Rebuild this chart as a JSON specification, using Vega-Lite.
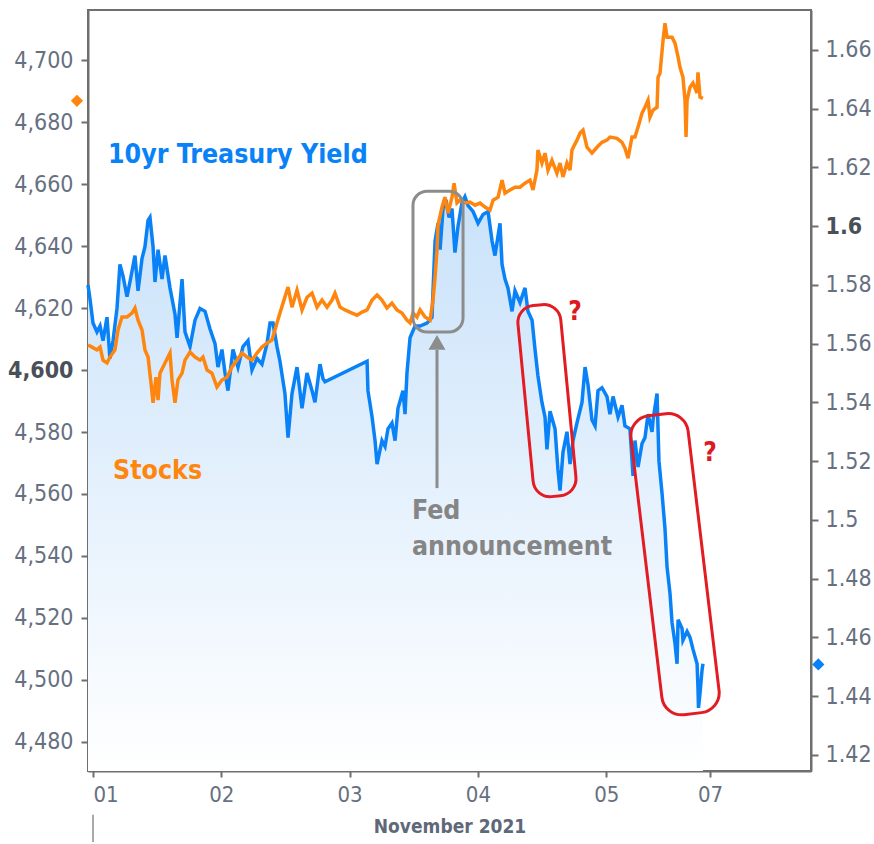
{
  "$schema": "https://vega.github.io/schema/vega-lite/v6.json",
  "width": 723,
  "height": 761,
  "autosize": {"type": "none"},
  "padding": {"left": 88, "top": 10, "right": 63, "bottom": 73},
  "background": "#ffffff",
  "config": {
    "view": {"stroke": "#6f6f6f", "strokeWidth": 2},
    "font": "DejaVu Sans Condensed, DejaVu Sans",
    "axis": {
      "grid": false,
      "labelFont": "DejaVu Sans Condensed, DejaVu Sans",
      "labelFontSize": 23,
      "labelColor": "#667080",
      "domainColor": "#6f6f6f",
      "domainWidth": 2,
      "tickColor": "#6f6f6f",
      "tickWidth": 2,
      "tickSize": 7,
      "titleFont": "DejaVu Sans Condensed, DejaVu Sans"
    }
  },
  "layer": [
    {
      "data": {"values": [{"t":0.961,"y":1.580},{"t":0.977,"y":1.575},{"t":1.0,"y":1.567},{"t":1.031,"y":1.564},{"t":1.055,"y":1.566},{"t":1.078,"y":1.561},{"t":1.109,"y":1.569},{"t":1.132,"y":1.555},{"t":1.156,"y":1.561},{"t":1.187,"y":1.572},{"t":1.21,"y":1.587},{"t":1.234,"y":1.583},{"t":1.265,"y":1.576},{"t":1.288,"y":1.581},{"t":1.327,"y":1.59},{"t":1.351,"y":1.578},{"t":1.382,"y":1.589},{"t":1.405,"y":1.593},{"t":1.429,"y":1.602},{"t":1.444,"y":1.603},{"t":1.468,"y":1.593},{"t":1.483,"y":1.581},{"t":1.507,"y":1.592},{"t":1.538,"y":1.582},{"t":1.561,"y":1.59},{"t":1.6,"y":1.579},{"t":1.639,"y":1.57},{"t":1.655,"y":1.562},{"t":1.694,"y":1.582},{"t":1.717,"y":1.564},{"t":1.756,"y":1.559},{"t":1.795,"y":1.568},{"t":1.834,"y":1.572},{"t":1.873,"y":1.571},{"t":1.912,"y":1.565},{"t":1.951,"y":1.56},{"t":1.974,"y":1.552},{"t":2.005,"y":1.558},{"t":2.029,"y":1.55},{"t":2.052,"y":1.544},{"t":2.091,"y":1.558},{"t":2.13,"y":1.552},{"t":2.169,"y":1.559},{"t":2.208,"y":1.561},{"t":2.239,"y":1.551},{"t":2.278,"y":1.555},{"t":2.317,"y":1.553},{"t":2.356,"y":1.56},{"t":2.38,"y":1.567},{"t":2.403,"y":1.567},{"t":2.434,"y":1.559},{"t":2.457,"y":1.554},{"t":2.496,"y":1.543},{"t":2.52,"y":1.528},{"t":2.551,"y":1.543},{"t":2.59,"y":1.552},{"t":2.629,"y":1.538},{"t":2.668,"y":1.55},{"t":2.707,"y":1.544},{"t":2.73,"y":1.54},{"t":2.769,"y":1.553},{"t":2.793,"y":1.548},{"t":2.808,"y":1.547},{"t":3.136,"y":1.554},{"t":3.143,"y":1.544},{"t":3.175,"y":1.535},{"t":3.198,"y":1.527},{"t":3.214,"y":1.519},{"t":3.252,"y":1.527},{"t":3.276,"y":1.525},{"t":3.299,"y":1.531},{"t":3.33,"y":1.533},{"t":3.354,"y":1.527},{"t":3.377,"y":1.538},{"t":3.416,"y":1.544},{"t":3.432,"y":1.536},{"t":3.447,"y":1.55},{"t":3.471,"y":1.562},{"t":3.51,"y":1.566},{"t":3.549,"y":1.566},{"t":3.603,"y":1.567},{"t":3.642,"y":1.569},{"t":3.65,"y":1.578},{"t":3.666,"y":1.595},{"t":3.689,"y":1.601},{"t":3.705,"y":1.592},{"t":3.728,"y":1.606},{"t":3.751,"y":1.609},{"t":3.775,"y":1.603},{"t":3.798,"y":1.606},{"t":3.821,"y":1.591},{"t":3.845,"y":1.6},{"t":3.876,"y":1.608},{"t":3.899,"y":1.61},{"t":3.923,"y":1.607},{"t":3.962,"y":1.605},{"t":4.001,"y":1.601},{"t":4.04,"y":1.604},{"t":4.079,"y":1.605},{"t":4.11,"y":1.595},{"t":4.133,"y":1.59},{"t":4.172,"y":1.601},{"t":4.188,"y":1.587},{"t":4.211,"y":1.582},{"t":4.234,"y":1.579},{"t":4.266,"y":1.571},{"t":4.289,"y":1.578},{"t":4.328,"y":1.574},{"t":4.367,"y":1.579},{"t":4.39,"y":1.571},{"t":4.422,"y":1.568},{"t":4.445,"y":1.558},{"t":4.468,"y":1.549},{"t":4.499,"y":1.54},{"t":4.523,"y":1.535},{"t":4.538,"y":1.524},{"t":4.562,"y":1.537},{"t":4.601,"y":1.531},{"t":4.624,"y":1.517},{"t":4.64,"y":1.51},{"t":4.663,"y":1.523},{"t":4.694,"y":1.53},{"t":4.718,"y":1.519},{"t":4.741,"y":1.527},{"t":4.772,"y":1.533},{"t":4.811,"y":1.54},{"t":4.835,"y":1.552},{"t":4.858,"y":1.546},{"t":4.889,"y":1.534},{"t":4.913,"y":1.532},{"t":4.936,"y":1.544},{"t":4.967,"y":1.545},{"t":5.006,"y":1.542},{"t":5.029,"y":1.536},{"t":5.053,"y":1.542},{"t":5.092,"y":1.535},{"t":5.123,"y":1.539},{"t":5.146,"y":1.532},{"t":5.185,"y":1.531},{"t":5.209,"y":1.515},{"t":5.224,"y":1.527},{"t":5.248,"y":1.518},{"t":5.279,"y":1.526},{"t":5.302,"y":1.528},{"t":5.326,"y":1.536},{"t":5.357,"y":1.53},{"t":5.365,"y":1.534},{"t":5.396,"y":1.543},{"t":5.411,"y":1.52},{"t":5.435,"y":1.509},{"t":5.458,"y":1.497},{"t":5.474,"y":1.484},{"t":5.497,"y":1.475},{"t":5.513,"y":1.465},{"t":5.536,"y":1.458},{"t":5.552,"y":1.451},{"t":5.56,"y":1.466},{"t":5.591,"y":1.463},{"t":5.598,"y":1.459},{"t":5.63,"y":1.462},{"t":5.653,"y":1.46},{"t":5.676,"y":1.456},{"t":5.708,"y":1.451},{"t":5.715,"y":1.443},{"t":5.719,"y":1.436},{"t":5.731,"y":1.441},{"t":5.747,"y":1.449},{"t":5.754,"y":1.451}]},
      "encoding": {
        "x": {
          "field": "t", "type": "quantitative",
          "scale": {"domain": [0.961, 6.596], "nice": false, "zero": false},
          "axis": {
            "values": [1, 2, 3, 4, 5, 5.809],
            "labelExpr": "datum.value == 1 ? '01' : datum.value == 2 ? '02' : datum.value == 3 ? '03' : datum.value == 4 ? '04' : datum.value == 5 ? '05' : '07'",
            "labelFontSize": 22,
            "labelPadding": 7,
            "labelFlush": 10,
            "labelDx": 2,
            "tickSize": 6,
            "title": "November 2021",
            "titleFontSize": 19,
            "titleFontWeight": "bold",
            "titleColor": "#5f6878",
            "titlePadding": 12
          }
        },
        "y": {
          "field": "y", "type": "quantitative",
          "scale": {"domain": [1.4145, 1.6736], "nice": false, "zero": false},
          "axis": {
            "orient": "right",
            "title": null,
            "values": [1.42, 1.44, 1.46, 1.48, 1.5, 1.52, 1.54, 1.56, 1.58, 1.6, 1.62, 1.64, 1.66],
            "labelExpr": "format(datum.value, '~g')",
            "labelPadding": 7,
            "labelFontWeight": {"condition": {"test": "abs(datum.value - 1.6) < 0.0001", "value": "bold"}, "value": "normal"},
            "labelColor": {"condition": {"test": "abs(datum.value - 1.6) < 0.0001", "value": "#4a5058"}, "value": "#667080"}
          }
        }
      },
      "layer": [
        {
          "mark": {
            "type": "area",
            "fill": {"x1": 0, "y1": 0, "x2": 0, "y2": 1, "gradient": "linear", "stops": [{"offset": 0, "color": "#c9e2fa"}, {"offset": 1, "color": "#ffffff"}]},
            "stroke": null
          },
          "encoding": {"y": {"field": "y", "type": "quantitative", "stack": null}}
        },
        {"mark": {"type": "line", "color": "#0a82f7", "strokeWidth": 3.5}},
        {
          "data": {"values": [{"t": 4.538, "y": 1.5406}]},
          "mark": {"type": "point", "shape": "M -0.045,-0.96 L 0.045,-0.96 C 0.1389,-0.96 0.215,-0.8839 0.215,-0.79 L 0.215,0.79 C 0.215,0.8839 0.1389,0.96 0.045,0.96 L -0.045,0.96 C -0.1389,0.96 -0.215,0.8839 -0.215,0.79 L -0.215,-0.79 C -0.215,-0.8839 -0.1389,-0.96 -0.045,-0.96 Z", "size": 40000, "angle": -5.5, "filled": false, "stroke": "#e31b23", "strokeWidth": 3, "opacity": 1}
        },
        {
          "data": {"values": [{"t": 5.536, "y": 1.4849}]},
          "mark": {"type": "point", "shape": "M -0.088,-1.505 L 0.088,-1.505 C 0.1985,-1.505 0.288,-1.4155 0.288,-1.305 L 0.288,1.305 C 0.288,1.4155 0.1985,1.505 0.088,1.505 L -0.088,1.505 C -0.1985,1.505 -0.288,1.4155 -0.288,1.305 L -0.288,-1.305 C -0.288,-1.4155 -0.1985,-1.505 -0.088,-1.505 Z", "size": 40000, "angle": -6.8, "filled": false, "stroke": "#e31b23", "strokeWidth": 3, "opacity": 1}
        },
        {
          "data": {"values": [{"t": 4.757, "y": 1.5708, "label": "?"}, {"t": 5.809, "y": 1.5229, "label": "?"}]},
          "mark": {"type": "text", "align": "center", "baseline": "middle", "fontSize": 26, "fontWeight": "bold", "color": "#dd1a22"},
          "encoding": {"text": {"field": "label"}}
        },
        {
          "data": {"values": [{"t": 6.653, "y": 1.4508}]},
          "mark": {"type": "point", "shape": "diamond", "filled": true, "size": 150, "color": "#0a82f7", "opacity": 1}
        }
      ]
    },
    {
      "data": {"values": [{"t":0.961,"s":4608.1},{"t":0.992,"s":4607.4},{"t":1.031,"s":4606.5},{"t":1.055,"s":4607.4},{"t":1.078,"s":4603.2},{"t":1.109,"s":4602.3},{"t":1.132,"s":4604.2},{"t":1.171,"s":4606.5},{"t":1.195,"s":4612.9},{"t":1.226,"s":4617.1},{"t":1.265,"s":4617.1},{"t":1.304,"s":4618.4},{"t":1.327,"s":4620.0},{"t":1.351,"s":4616.1},{"t":1.382,"s":4612.9},{"t":1.405,"s":4606.5},{"t":1.429,"s":4604.2},{"t":1.452,"s":4595.8},{"t":1.468,"s":4589.4},{"t":1.491,"s":4597.7},{"t":1.507,"s":4590.3},{"t":1.522,"s":4599.0},{"t":1.561,"s":4602.3},{"t":1.6,"s":4605.5},{"t":1.616,"s":4596.8},{"t":1.639,"s":4589.4},{"t":1.662,"s":4596.8},{"t":1.694,"s":4599.0},{"t":1.717,"s":4603.2},{"t":1.756,"s":4605.8},{"t":1.795,"s":4604.2},{"t":1.834,"s":4603.2},{"t":1.857,"s":4604.2},{"t":1.889,"s":4600.0},{"t":1.927,"s":4599.0},{"t":1.966,"s":4594.5},{"t":2.005,"s":4596.8},{"t":2.044,"s":4597.7},{"t":2.083,"s":4601.0},{"t":2.122,"s":4603.2},{"t":2.161,"s":4605.5},{"t":2.2,"s":4604.2},{"t":2.239,"s":4603.2},{"t":2.278,"s":4605.5},{"t":2.317,"s":4607.4},{"t":2.356,"s":4608.7},{"t":2.395,"s":4609.7},{"t":2.434,"s":4615.2},{"t":2.457,"s":4618.4},{"t":2.481,"s":4621.6},{"t":2.52,"s":4626.8},{"t":2.551,"s":4620.3},{"t":2.59,"s":4625.8},{"t":2.629,"s":4619.4},{"t":2.668,"s":4623.5},{"t":2.707,"s":4624.8},{"t":2.746,"s":4620.3},{"t":2.785,"s":4622.6},{"t":2.824,"s":4620.3},{"t":2.863,"s":4622.6},{"t":2.886,"s":4624.8},{"t":2.925,"s":4620.3},{"t":2.964,"s":4619.4},{"t":3.019,"s":4618.4},{"t":3.058,"s":4617.7},{"t":3.097,"s":4618.7},{"t":3.136,"s":4619.4},{"t":3.175,"s":4622.6},{"t":3.214,"s":4624.2},{"t":3.252,"s":4622.6},{"t":3.291,"s":4620.0},{"t":3.33,"s":4621.6},{"t":3.369,"s":4619.4},{"t":3.408,"s":4618.4},{"t":3.447,"s":4616.1},{"t":3.471,"s":4615.2},{"t":3.494,"s":4618.4},{"t":3.525,"s":4617.1},{"t":3.549,"s":4619.4},{"t":3.588,"s":4617.1},{"t":3.627,"s":4616.1},{"t":3.65,"s":4622.6},{"t":3.666,"s":4630.0},{"t":3.681,"s":4638.7},{"t":3.689,"s":4646.8},{"t":3.72,"s":4652.6},{"t":3.743,"s":4655.8},{"t":3.767,"s":4650.6},{"t":3.798,"s":4655.8},{"t":3.814,"s":4660.3},{"t":3.837,"s":4653.9},{"t":3.86,"s":4654.8},{"t":3.899,"s":4653.9},{"t":3.938,"s":4654.2},{"t":3.977,"s":4653.2},{"t":4.016,"s":4653.9},{"t":4.055,"s":4652.6},{"t":4.094,"s":4651.6},{"t":4.118,"s":4654.8},{"t":4.157,"s":4655.8},{"t":4.188,"s":4661.3},{"t":4.211,"s":4657.1},{"t":4.25,"s":4658.1},{"t":4.289,"s":4659.0},{"t":4.328,"s":4659.0},{"t":4.367,"s":4660.3},{"t":4.406,"s":4661.3},{"t":4.429,"s":4658.1},{"t":4.46,"s":4664.5},{"t":4.468,"s":4671.0},{"t":4.499,"s":4666.8},{"t":4.523,"s":4670.0},{"t":4.546,"s":4664.5},{"t":4.577,"s":4667.7},{"t":4.616,"s":4663.5},{"t":4.64,"s":4666.8},{"t":4.663,"s":4662.3},{"t":4.694,"s":4666.8},{"t":4.718,"s":4664.5},{"t":4.733,"s":4671.0},{"t":4.772,"s":4674.2},{"t":4.796,"s":4676.5},{"t":4.819,"s":4677.4},{"t":4.85,"s":4671.9},{"t":4.889,"s":4670.0},{"t":4.928,"s":4671.9},{"t":4.967,"s":4673.5},{"t":5.006,"s":4674.2},{"t":5.029,"s":4675.2},{"t":5.084,"s":4674.8},{"t":5.123,"s":4673.5},{"t":5.146,"s":4671.6},{"t":5.17,"s":4668.4},{"t":5.201,"s":4675.2},{"t":5.224,"s":4675.2},{"t":5.248,"s":4678.4},{"t":5.279,"s":4682.9},{"t":5.302,"s":4684.8},{"t":5.326,"s":4687.1},{"t":5.341,"s":4681.6},{"t":5.365,"s":4683.9},{"t":5.396,"s":4684.8},{"t":5.404,"s":4694.5},{"t":5.419,"s":4695.8},{"t":5.443,"s":4706.5},{"t":5.458,"s":4711.9},{"t":5.474,"s":4707.4},{"t":5.513,"s":4707.4},{"t":5.536,"s":4705.5},{"t":5.56,"s":4701.0},{"t":5.575,"s":4697.7},{"t":5.598,"s":4694.5},{"t":5.614,"s":4687.1},{"t":5.622,"s":4675.2},{"t":5.63,"s":4687.1},{"t":5.653,"s":4691.3},{"t":5.676,"s":4692.6},{"t":5.708,"s":4689.4},{"t":5.715,"s":4696.1},{"t":5.731,"s":4688.1},{"t":5.754,"s":4687.7}]},
      "encoding": {
        "x": {"field": "t", "type": "quantitative"},
        "y": {
          "field": "s", "type": "quantitative",
          "scale": {"domain": [4470.6, 4716.2], "nice": false, "zero": false},
          "axis": {
            "orient": "left",
            "title": null,
            "values": [4480, 4500, 4520, 4540, 4560, 4580, 4600, 4620, 4640, 4660, 4680, 4700],
            "labelExpr": "format(datum.value, ',')",
            "labelPadding": 8,
            "labelFontWeight": {"condition": {"test": "datum.value == 4600", "value": "bold"}, "value": "normal"},
            "labelColor": {"condition": {"test": "datum.value == 4600", "value": "#4a5058"}, "value": "#667080"}
          }
        }
      },
      "layer": [
        {"mark": {"type": "line", "color": "#fe860f", "strokeWidth": 3.5}},
        {
          "data": {"values": [{"t": 3.494, "t2": 3.884, "s": 4657.7, "s2": 4612.3}]},
          "mark": {"type": "rect", "cornerRadius": 14, "fill": null, "fillOpacity": 0, "stroke": "#8c8c8c", "strokeWidth": 3},
          "encoding": {"x2": {"field": "t2"}, "y2": {"field": "s2"}}
        },
        {
          "data": {"values": [{"t": 3.681, "s": 4606.5, "s2": 4561.9}]},
          "mark": {"type": "rule", "color": "#8c8c8c", "strokeWidth": 3},
          "encoding": {"y2": {"field": "s2"}}
        },
        {
          "data": {"values": [{"t": 3.681, "s": 4608.9}]},
          "mark": {"type": "point", "shape": "triangle-up", "filled": true, "size": 289, "color": "#8c8c8c", "opacity": 1}
        },
        {
          "data": {"values": [{"t": 1.117, "s": 4669.4, "label": "10yr Treasury Yield"}]},
          "mark": {"type": "text", "align": "left", "baseline": "middle", "fontSize": 26.5, "fontWeight": "bold", "color": "#0a82f7"},
          "encoding": {"text": {"field": "label"}}
        },
        {
          "data": {"values": [{"t": 1.156, "s": 4567.4, "label": "Stocks"}]},
          "mark": {"type": "text", "align": "left", "baseline": "middle", "fontSize": 26.5, "fontWeight": "bold", "color": "#fe860f"},
          "encoding": {"text": {"field": "label"}}
        },
        {
          "data": {"values": [{"t": 3.486, "s": 4554.5, "label": "Fed"}, {"t": 3.486, "s": 4542.9, "label": "announcement"}]},
          "mark": {"type": "text", "align": "left", "baseline": "middle", "fontSize": 26.5, "fontWeight": "bold", "color": "#858585"},
          "encoding": {"text": {"field": "label"}}
        },
        {
          "data": {"values": [{"t": 0.875, "s": 4686.9}]},
          "mark": {"type": "point", "shape": "diamond", "filled": true, "size": 150, "color": "#fe860f", "opacity": 1}
        },
        {
          "data": {"values": [{"t": 1, "s": 4456.5, "s2": 4447.7}]},
          "mark": {"type": "rule", "color": "#8c8c8c", "strokeWidth": 1.5},
          "encoding": {"y2": {"field": "s2"}}
        }
      ]
    }
  ],
  "resolve": {"scale": {"y": "independent"}, "axis": {"y": "independent"}}
}
